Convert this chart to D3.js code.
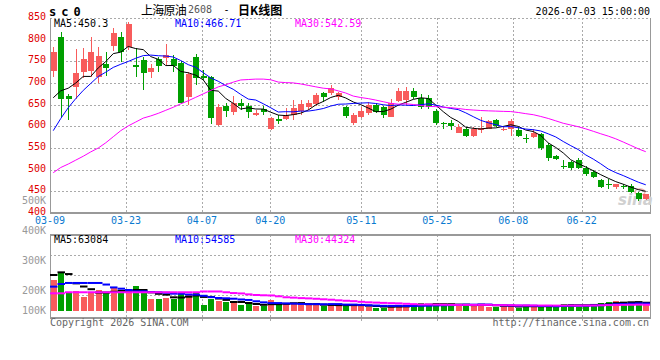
<!DOCTYPE html>
<html>
<head>
<meta charset="utf-8">
<script src="https://cdn.jsdelivr.net/npm/d3@7"></script>
<style>
  body { margin: 0; background: #fff; }
  text { font-family: "DejaVu Sans Mono", monospace; font-size: 10px; }
</style>
</head>
<body>
<script>
// trading days, 80 sessions
const dates = [
  '03-09','03-10','03-11','03-12','03-13','03-16','03-17','03-18','03-19','03-20',
  '03-23','03-24','03-25','03-26','03-27','03-30','03-31','04-01','04-02','04-03',
  '04-07','04-08','04-09','04-10','04-13','04-14','04-15','04-16','04-17','04-20',
  '04-21','04-22','04-23','04-24','04-27','04-28','04-29','04-30','05-06','05-07',
  '05-08','05-11','05-12','05-13','05-14','05-15','05-18','05-19','05-20','05-21',
  '05-22','05-25','05-26','05-27','05-28','05-29','06-01','06-02','06-03','06-04',
  '06-05','06-08','06-09','06-10','06-11','06-12','06-15','06-16','06-17','06-18',
  '06-22','06-23','06-24','06-25','06-26','06-29','06-30','07-01','07-02','07-03'
]
const open = [
  728,807,670,690,725,728,714,745,785,807, 782,742,753,725,755,757,755,747,668,761,
  716,713,603,647,634,653,647,626,639,593, 618,617,626,635,645,652,676,678,668,645,
  607,622,630,649,644,622,658,660,682,665, 665,636,607,607,585,595,578,592,595,615,
  592,595,592,572,575,582,557,532,508,518, 522,505,495,476,466,459,462,462,447,432
]
const high = [
  784,818,675,778,781,807,784,772,826,818, 840,780,760,745,760,789,765,751,726,766,
  730,716,652,654,670,663,654,638,647,622, 626,642,660,660,661,677,679,695,680,647,
  631,645,657,653,646,662,688,690,688,675, 672,639,611,615,605,598,598,622,615,617,
  599,616,599,582,593,585,561,534,522,520, 526,508,499,478,478,467,468,467,449,445
]
const low = [
  715,622,615,663,712,714,700,716,774,748, 777,715,684,711,726,742,726,653,649,695,
  707,605,600,622,627,638,619,624,626,591, 605,615,615,626,638,647,656,672,661,619,
  603,619,626,630,619,621,657,649,662,639, 640,603,595,592,584,575,575,584,593,598,
  589,578,576,561,574,545,520,522,502,499, 502,486,480,457,455,455,455,446,428,430
]
const close = [
  772,664,662,723,755,772,762,735,815,772, 837,738,723,735,740,765,740,653,720,712,
  711,619,645,635,655,646,633,631,634,619, 613,627,642,651,655,672,667,688,676,624,
  626,636,649,634,626,653,682,682,668,644, 645,607,605,601,599,578,594,597,612,601,
  595,613,578,570,584,549,528,525,507,505, 505,489,482,461,464,466,459,449,432,444
]
// volume in thousands of lots
const volume = [
  237,288,147,153,109,135,160,147,181,147, 135,191,147,92,92,102,89,140,122,140,
  46,89,79,71,59,46,51,40,40,84, 46,63,63,46,46,46,40,53,40,46,
  46,40,33,25,25,40,46,40,40,63, 53,63,40,40,46,53,46,53,33,33,
  33,46,25,46,33,33,46,33,53,53, 33,46,46,63,71,76,63,59,71,46
]
// moving-average values before the window is full
const ma5Lead = [666, 682, 688, 700]
const ma10Lead = [590, 618, 643, 664, 683, 699, 715, 725, 736]
const ma30Lead = [493,505,513,522,531,541,550,562,576,590,601,610,619,624,630,
  637,644,652,659,667,675,683,691,696,702,707,708,709,709]
const vma5Lead = [275, 295, 282, 211]
const vma10Lead = [186, 206, 214, 214, 214, 214, 214, 202, 180]
const vma30Lead = [135,135,143,143,143,143,143,143,143,143,143,143,143,143,143,
  143,143,143,143,143,149,149,149,143,137,134,127,122,120]

const priceTicks = [400, 450, 500, 550, 600, 650, 700, 750, 800, 850]
const dateTicks = ['03-09','03-23','04-07','04-20','05-11','05-25','06-08','06-22']
const volTicks = [100, 200, 300, 400, 500]
const maNames = ['MA5', 'MA10', 'MA30']
const priceMaText = ['450.3', '466.71', '542.59']
const volMaText = ['63084', '54585', '44324']

const RED = '#f85c5c'
const GREEN = '#009f00'
const MA_COLORS = ['#000000', '#0000ff', '#ff00ff']
const GRID = '#aaaaaa'
const BORDER = '#999999'

const svg = d3.select('body').append('svg')
  .attr('width', 660)
  .attr('height', 360)

const L = 50, R = 650
const mainTop = 18, mainBottom = 213
const volTop = 235, volBottom = 318, volBase = 311

const xBand = d3.scaleBand().domain(dates).range([L, R])
const xTick = d3.scalePoint().domain(dates).range([L, R])
const yPrice = d3.scaleLinear().domain([400, 850]).range([mainBottom, mainTop])
const yVol = d3.scaleLinear().domain([0, 500]).range([volBase, volBase - 65.5])
const yVolLabel = d3.scaleLinear().domain([100, 500]).range([324, 203.5])

function movingAvg(vals, n, lead) {
  return vals.map((v, i) => i < n - 1 ? lead[i] : d3.mean(vals.slice(i - n + 1, i + 1)))
}

const rows = dates.map((d, i) => ({
  date: d, o: open[i], h: high[i], l: low[i], c: close[i], v: volume[i],
  up: close[i] >= open[i]
}))

// grid lines
const grid = svg.append('g')
  .attr('stroke', GRID)
  .attr('stroke-dasharray', '2,2')
  .attr('shape-rendering', 'crispEdges')

grid.selectAll('.hgrid')
  .data(priceTicks.filter(t => t > 400))
  .enter().append('line')
  .attr('x1', L).attr('x2', R)
  .attr('y1', d => Math.round(yPrice(d)) + 0.5)
  .attr('y2', d => Math.round(yPrice(d)) + 0.5)

grid.selectAll('.vgrid')
  .data(dateTicks.slice(1))
  .enter().append('line')
  .attr('x1', d => Math.round(xTick(d)) + 0.5)
  .attr('x2', d => Math.round(xTick(d)) + 0.5)
  .attr('y1', mainTop).attr('y2', mainBottom)

grid.selectAll('.vgrid2')
  .data(dateTicks.slice(1))
  .enter().append('line')
  .attr('x1', d => Math.round(xTick(d)) + 0.5)
  .attr('x2', d => Math.round(xTick(d)) + 0.5)
  .attr('y1', volTop).attr('y2', volBottom + 3)

grid.selectAll('.hgrid2')
  .data([1, 2, 3])
  .enter().append('line')
  .attr('x1', L).attr('x2', R)
  .attr('y1', d => volTop + 20 * d + 0.5)
  .attr('y2', d => volTop + 20 * d + 0.5)

// borders
const border = svg.append('g')
  .attr('stroke', BORDER)
  .attr('shape-rendering', 'crispEdges')
border.append('line').attr('x1', L + 0.5).attr('x2', L + 0.5).attr('y1', mainTop).attr('y2', mainBottom)
border.append('line').attr('x1', R + 0.5).attr('x2', R + 0.5).attr('y1', mainTop).attr('y2', mainBottom)
border.append('line').attr('x1', L).attr('x2', R + 1).attr('y1', mainBottom).attr('y2', mainBottom).attr('stroke-width', 2)
border.append('line').attr('x1', L + 0.5).attr('x2', L + 0.5).attr('y1', volTop).attr('y2', volBottom)
border.append('line').attr('x1', R + 0.5).attr('x2', R + 0.5).attr('y1', volTop).attr('y2', volBottom)
border.append('line').attr('x1', L).attr('x2', R + 1).attr('y1', volTop).attr('y2', volTop).attr('stroke-width', 2)
border.append('line').attr('x1', L).attr('x2', R + 1).attr('y1', volBottom).attr('y2', volBottom).attr('stroke-width', 2)

// sina watermark
svg.append('text')
  .attr('x', 618).attr('y', 205)
  .style('font-family', '"DejaVu Sans", sans-serif')
  .style('font-size', '15px')
  .style('font-weight', 'bold')
  .style('font-style', 'italic')
  .attr('fill', '#d0d0d0')
  .text('sina')
svg.append('ellipse')
  .attr('cx', 640).attr('cy', 192).attr('rx', 5).attr('ry', 3)
  .attr('fill', 'none').attr('stroke', '#f2b0b0').attr('stroke-width', 1.5)

// candles
const candles = svg.append('g').attr('shape-rendering', 'crispEdges')
candles.selectAll('.wick')
  .data(rows)
  .enter().append('line')
  .attr('x1', d => Math.round(xBand(d.date) + 3) + 0.5)
  .attr('x2', d => Math.round(xBand(d.date) + 3) + 0.5)
  .attr('y1', d => yPrice(d.h))
  .attr('y2', d => yPrice(d.l))
  .attr('stroke', d => d.up ? RED : GREEN)

candles.selectAll('.body')
  .data(rows)
  .enter().append('rect')
  .attr('x', d => Math.round(xBand(d.date) + 0.5))
  .attr('width', 6)
  .attr('y', d => yPrice(Math.max(d.o, d.c)))
  .attr('height', d => Math.max(1, Math.abs(yPrice(d.o) - yPrice(d.c))))
  .attr('fill', d => d.up ? RED : GREEN)

// price moving averages
const priceMa = [movingAvg(close, 5, ma5Lead), movingAvg(close, 10, ma10Lead), movingAvg(close, 30, ma30Lead)]
const line = d3.line()
  .x((d, i) => xBand(dates[i]) + 3.25)
  .y(d => yPrice(d))
priceMa.forEach((vals, k) => {
  svg.append('path')
    .attr('d', line(vals))
    .attr('fill', 'none')
    .attr('stroke', MA_COLORS[k])
    .attr('stroke-width', 1)
})

// volume bars
svg.append('g').attr('shape-rendering', 'crispEdges')
  .selectAll('rect')
  .data(rows)
  .enter().append('rect')
  .attr('x', d => Math.round(xBand(d.date) + 0.5))
  .attr('width', 6)
  .attr('y', d => yVol(d.v))
  .attr('height', d => volBase - yVol(d.v))
  .attr('fill', d => d.up ? RED : GREEN)

// volume moving averages, drawn as short steps
const volMa = [movingAvg(volume, 5, vma5Lead), movingAvg(volume, 10, vma10Lead), movingAvg(volume, 30, vma30Lead)]
volMa.forEach((vals, k) => {
  svg.append('g')
    .selectAll('line')
    .data(vals)
    .enter().append('line')
    .attr('x1', (d, i) => xBand(dates[i]))
    .attr('x2', (d, i) => xBand(dates[i]) + xBand.bandwidth())
    .attr('y1', d => yVol(d))
    .attr('y2', d => yVol(d))
    .attr('stroke', MA_COLORS[k])
    .attr('stroke-width', 2)
})

// price axis labels
svg.selectAll('.plabel')
  .data(priceTicks)
  .enter().append('text')
  .attr('x', 46)
  .attr('y', d => yPrice(d) + 2)
  .attr('text-anchor', 'end')
  .attr('fill', '#e00000')
  .text(d => d)

// volume axis labels
svg.selectAll('.vlabel')
  .data(volTicks)
  .enter().append('text')
  .attr('x', 46)
  .attr('y', d => Math.min(yVolLabel(d), 314))
  .attr('text-anchor', 'end')
  .attr('fill', '#999999')
  .text(d => d + 'K')

// date labels
svg.selectAll('.dlabel')
  .data(dateTicks)
  .enter().append('text')
  .attr('x', d => xTick(d))
  .attr('y', 224)
  .attr('text-anchor', 'middle')
  .attr('fill', '#0a7ad0')
  .text(d => d)

// legends
const legendX = [54, 175, 295]
maNames.forEach((name, k) => {
  svg.append('text')
    .attr('x', legendX[k]).attr('y', 26.7)
    .attr('fill', MA_COLORS[k])
    .text(name + ':' + priceMaText[k])
  svg.append('text')
    .attr('x', legendX[k]).attr('y', 242.7)
    .attr('fill', MA_COLORS[k])
    .text(name + ':' + volMaText[k])
})

// title row
svg.append('text')
  .attr('x', 49).attr('y', 16)
  .style('font-size', '12px')
  .style('font-weight', 'bold')
  .style('letter-spacing', '5px')
  .text('sc0')
svg.append('text')
  .attr('x', 141).attr('y', 14.5)
  .style('font-family', '"Noto Sans CJK SC", sans-serif')
  .style('font-size', '12px')
  .style('letter-spacing', '-0.75px')
  .text('上海原油')
svg.append('text')
  .attr('x', 188).attr('y', 13.3)
  .attr('fill', '#555')
  .text('2608')
svg.append('text')
  .attr('x', 226.5).attr('y', 13.3)
  .attr('text-anchor', 'middle')
  .text('-')
svg.append('text')
  .attr('x', 238).attr('y', 14.5)
  .style('font-family', '"Noto Sans CJK SC", sans-serif')
  .style('font-size', '12px')
  .style('font-weight', 'bold')
  .text('日K线图')
svg.append('text')
  .attr('x', 650).attr('y', 15)
  .attr('text-anchor', 'end')
  .text('2026-07-03 15:00:00')

// footer
svg.append('text')
  .attr('x', 50).attr('y', 325.5)
  .attr('fill', '#666')
  .text('Copyright 2026 SINA.COM')
svg.append('text')
  .attr('x', 649).attr('y', 325.5)
  .attr('text-anchor', 'end')
  .attr('fill', '#666')
  .text('http://finance.sina.com.cn')
</script>
</body>
</html>
